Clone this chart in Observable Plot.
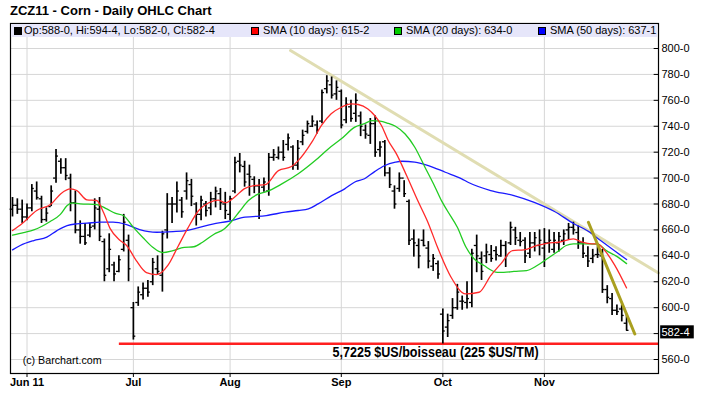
<!DOCTYPE html>
<html>
<head>
<meta charset="utf-8">
<script src="https://cdn.jsdelivr.net/npm/d3@7"></script>
<script src="https://cdn.jsdelivr.net/npm/@observablehq/plot@0.6"></script>
<style>
  body { margin: 0; background: #fff; }
  #wrap { position: relative; width: 702px; height: 397px; overflow: hidden; font-family: "Liberation Sans", Arial, sans-serif; }
  #title { position: absolute; left: 10px; top: 3px; font-weight: bold; font-size: 13px; color: #000; white-space: nowrap; }
  #band { position: absolute; left: 11px; top: 24px; width: 646px; height: 13px; background: #e6e6fa; }
  .item { position: absolute; top: 24px; font-size: 11px; line-height: 13px; white-space: nowrap; color: #000; }
  .sq { position: absolute; top: 27px; width: 6px; height: 6px; border: 1px solid #000; }
  #chart { position: absolute; left: 0; top: 0; }
</style>
</head>
<body>
<div id="wrap">
  <div id="chart"></div>
  <div id="band"></div>
  <div class="sq" style="left:14px;background:#000"></div>
  <div class="item" id="lg0" style="left:24px"></div>
  <div class="sq" style="left:251px;background:#ff0000"></div>
  <div class="item" id="lg1" style="left:263px"></div>
  <div class="sq" style="left:394px;background:#00cc00"></div>
  <div class="item" id="lg2" style="left:406px"></div>
  <div class="sq" style="left:538px;background:#0000ff"></div>
  <div class="item" id="lg3" style="left:550px"></div>
  <div id="title"></div>
</div>
<script>
// ---------- data ----------
const titleText = "ZCZ11 - Corn - Daily OHLC Chart";
const legendTexts = ["Op:588-0, Hi:594-4, Lo:582-0, Cl:582-4", "SMA (10 days): 615-2", "SMA (20 days): 634-0", "SMA (50 days): 637-1"];

// trading-day index of month starts and their labels
const monthK = [3, 25, 45, 68, 89, 110];
const monthLabels = ["Jun 11", "Jul", "Aug", "Sep", "Oct", "Nov"];
const priceTicks = [560, 580, 600, 620, 640, 660, 680, 700, 720, 740, 760, 780, 800];

const highs = [685,684,683,680,695,697,686,677,694,722,715,715,703,690,667,665,665,684,685,653,657,635,640,672,656,604,616,619,621,638,640,659,688,685,697,685,704,699,681,686,682,689,693,692,689,686,716,719,713,710,701,699,700,719,722,724,729,734,725,729,737,744,748,744,768,779,778,775,768,762,760,765,751,741,746,748,728,729,708,694,704,698,683,660,653,660,651,641,636,599,595,607,618,609,620,645,656,643,649,648,647,652,651,666,662,658,654,658,658,660,661,660,658,658,660,665,666,663,654,647,645,647,645,617,611,602,602,594.5];
const lows  = [670,672,665,667,674,683,665,666,678,696,703,698,674,657,649,648,654,660,651,620,627,620,627,643,620,575,601,606,608,617,625,612,653,665,673,669,683,678,663,667,670,671,677,675,668,667,688,704,693,686,688,668,689,686,713,714,713,721,706,706,725,734,739,734,742,765,761,760,738,742,743,743,732,730,726,716,716,701,692,676,689,685,648,639,630,647,630,628,622,572,577,591,598,598,599,600,627,621,634,635,636,639,631,648,648,647,634,638,643,640,631,642,642,643,648,652,656,645,638,631,634,638,611,603,594,594,589,582];
const opens = [676,679,676,670,677,690,684,668,678,700,713,708,700,681,660,655,656,663,676,651,630,633,628,645,652,600,604,610,615,620,630,625,660,680,680,683,690,695,680,672,680,677,684,688,680,672,690,713,709,703,699,694,693,690,716,716,720,726,724,710,728,736,740,741,744,769,772,765,767,745,755,750,748,737,733,742,722,728,704,690,692,700,682,653,648,652,646,632,634,595,585,594,600,605,604,604,648,638,640,641,644,640,648,650,660,652,652,642,650,648,646,650,645,650,652,660,662,658,650,640,638,641,640,614,607,598,599,588];
const closes = [679,676,670,677,692,685,668,673,690,717,708,702,681,660,655,650,662,677,655,625,645,626,637,666,630,578,612,615,612,635,628,657,680,680,690,674,698,686,672,683,675,684,690,681,675,684,712,710,697,701,694,675,697,716,718,720,716,731,710,723,733,742,744,737,766,775,764,770,741,757,746,760,740,734,742,720,724,704,695,680,700,688,652,650,640,648,636,638,626,582,590,600,612,605,607,642,640,628,643,638,641,648,640,662,654,651,640,650,654,652,650,652,652,655,657,662,660,650,642,636,640,641,614,608,598,597,594,582.5];

// moving averages: [trading-day index, price]
const sma10 = [[0,659.5],[2,665],[5,675],[8,680],[10,688],[12,691.7],[13.3,690.4],[15.4,683.2],[17.4,682.7],[18.8,673.6],[20.2,661],[22.2,652],[23.6,648],[25.6,636.3],[27.7,627],[29.8,625.5],[32.2,633],[34.2,647],[36.2,661],[38.5,675],[40.6,681],[42.5,683],[44,681],[45.9,685.2],[47.9,691.7],[50,694.2],[52.3,695],[55,705.8],[57.7,708.9],[59.1,713.5],[61.9,727.7],[63.9,740.6],[65.9,749.6],[68,754.7],[70.1,757.3],[71.5,756.8],[73.5,753.4],[74.9,748.3],[76.3,740.6],[77.7,729],[79.4,718.7],[81.5,702],[83.8,682.7],[85.9,666],[87.9,646.6],[90.7,623.5],[93.7,610.6],[96.5,611.9],[98.9,624.8],[101,633.8],[103.4,644.1],[105.8,644.6],[108.5,648],[110.5,649.7],[113,650.5],[116,653.1],[117.8,650.5],[119.8,649.2],[121,649.2],[122.5,644],[124.6,632.5],[127,615.25]];
const sma20 = [[0,656],[2.3,658],[4.4,660],[7.8,666.5],[9.9,672],[11.3,678.8],[12.3,680.9],[14,680.1],[17.4,679.6],[19.5,676.2],[21.2,672.9],[22.9,671.1],[25,662],[27,654],[29,646.6],[31,642.5],[33.2,644],[35.5,646.6],[37.5,647],[39.3,650.5],[41.6,656.5],[43.7,660.5],[45.3,666.5],[46.9,674],[48.8,682.7],[50.9,687.8],[52.5,689.5],[55.7,695.5],[59.1,703.3],[62.6,713.5],[65.3,722.5],[68,730.3],[70.8,739.3],[72.8,742],[74.3,744.4],[76,744],[77.5,742.5],[79.2,740],[81.2,734],[83.2,723.8],[85.3,708.4],[87.4,693],[88.8,682],[89.9,675],[92,662],[93.8,646.6],[95.5,637.6],[97.5,632.5],[100.3,627.3],[101.6,627.3],[103.7,628],[106.3,628.6],[108.5,632.5],[110.5,637.6],[113,644],[114.5,648],[116,649.2],[118,649.2],[121,649],[122.8,644],[124.8,640],[127,634]];
const sma50 = [[0,644.6],[1.6,648],[4.4,651.8],[7.1,654.4],[9.2,659.5],[11.3,663.4],[13.3,664.7],[15.4,665.2],[18.1,666],[20.8,666],[23.6,664.1],[26.3,660.3],[29.8,658.2],[33.2,658.7],[35.9,659.5],[38.3,661.5],[41.4,664.5],[44.5,666.5],[48.1,669.8],[52.5,671.1],[56.4,673.7],[59.1,675],[61.2,676.2],[63.2,680.1],[66,686.5],[68.7,691.7],[70.8,697],[72.8,699.5],[74.9,705],[76.9,709.5],[79.2,712.3],[80.5,713],[83.2,712.3],[86,709.7],[89.5,704.5],[92.9,699.4],[94.2,696.8],[98.9,690.4],[103.7,686.5],[107.9,681.3],[112,674.4],[116.2,664.6],[118.9,659.4],[121.7,651.6],[124.5,643.9],[127,637.1]];

// hand-drawn trend lines and support level
const trendLong  = [[57.5,798.5],[133.6,626.7]];
const trendShort = [[119.1,665.9],[128.7,579.7]];
const supportPrice = 572.25;
const supportStartK = 22.1;
const supportLabel = "5,7225 $US/boisseau (225 $US/TM)";
const supportLabelAt = [87.5, 565.2];
const copyright = "(c) Barchart.com";
const copyrightAt = [2.1, 559.3];
const lastLabel = "582-4";

// ---------- build ----------
const X_DOMAIN = [-0.414, 133.6];
const Y_DOMAIN = [549.2, 819.3];
const bars = highs.map((h, i) => ({k: i, high: h, low: lows[i], open: opens[i], close: closes[i]}));
const toPts = arr => arr.map(([k, v]) => ({k, v}));
const labelByK = new Map(monthK.map((k, i) => [k, monthLabels[i]]));
const lastBar = bars[bars.length - 1];

document.getElementById("title").textContent = titleText;
legendTexts.forEach((t, i) => document.getElementById("lg" + i).textContent = t);

const chart = Plot.plot({
  width: 702,
  height: 397,
  marginTop: 23,
  marginBottom: 24,
  marginLeft: 10,
  marginRight: 44,
  x: {domain: X_DOMAIN, axis: null, label: null},
  y: {domain: Y_DOMAIN, axis: null, label: null},
  style: {fontFamily: "'Liberation Sans', Arial, sans-serif", fontSize: "11px", background: "transparent", color: "#000"},
  marks: [
    Plot.ruleY(priceTicks, {stroke: "#d6d6d6", strokeWidth: 1}),
    Plot.ruleX(monthK, {stroke: "#d6d6d6", strokeWidth: 1}),
    Plot.line(toPts(trendLong), {x: "k", y: "v", stroke: "#e0ddb2", strokeWidth: 3}),
    Plot.ruleY([supportPrice], {x1: () => supportStartK, x2: () => X_DOMAIN[1], stroke: "#ff2020", strokeWidth: 2.5}),
    Plot.ruleX(bars, {x: "k", y1: "low", y2: "high", stroke: "#000", strokeWidth: 1.7}),
    Plot.ruleY(bars, {y: "open", x1: d => d.k - 0.5, x2: "k", stroke: "#000", strokeWidth: 1.3}),
    Plot.ruleY(bars, {y: "close", x1: "k", x2: d => d.k + 0.5, stroke: "#000", strokeWidth: 1.3}),
    Plot.line(toPts(sma50), {x: "k", y: "v", stroke: "#1a1aff", strokeWidth: 1.3, curve: "monotone-x"}),
    Plot.line(toPts(sma20), {x: "k", y: "v", stroke: "#22cc22", strokeWidth: 1.3, curve: "monotone-x"}),
    Plot.line(toPts(sma10), {x: "k", y: "v", stroke: "#ff2a2a", strokeWidth: 1.3, curve: "monotone-x"}),
    Plot.line(toPts(trendShort), {x: "k", y: "v", stroke: "#aaa020", strokeWidth: 3}),
    Plot.frame({stroke: "#000", strokeWidth: 1.2}),
    Plot.ruleY(priceTicks, {x1: () => X_DOMAIN[1] - 0.9, x2: () => X_DOMAIN[1], stroke: "#000", strokeWidth: 1}),
    Plot.axisX({ticks: monthK, tickFormat: d => labelByK.get(d), tickSize: 4, tickPadding: 1, fontWeight: "bold", fontSize: 11, label: null}),
    Plot.axisY({anchor: "right", ticks: priceTicks.filter(p => Math.abs(p - lastBar.close) > 5), tickSize: 0, tickPadding: 3, tickFormat: d => d + "-0", fontSize: 11, label: null}),
    Plot.rect([lastBar], {x1: () => X_DOMAIN[1] + 0.45, x2: () => X_DOMAIN[1] + 7.4, y1: d => d.close - 6.6, y2: d => d.close + 3.5, fill: "#000"}),
    Plot.text([lastBar], {x: () => X_DOMAIN[1] + 0.6, y: "close", dy: 2, text: () => lastLabel, fill: "#fff", textAnchor: "start", fontSize: 11}),
    Plot.text([supportLabel], {x: () => supportLabelAt[0], y: () => supportLabelAt[1], text: d => d, fontWeight: "bold", fontSize: 14, fill: "#000", className: "support-label"}),
    Plot.text([copyright], {x: () => copyrightAt[0], y: () => copyrightAt[1], text: d => d, textAnchor: "start", fontSize: 11, fill: "#000", className: "copy-label"})
  ]
});
// condense the two narrow-font labels to the reference widths
chart.querySelectorAll(".support-label text").forEach(t => { t.setAttribute("textLength", 206); t.setAttribute("lengthAdjust", "spacingAndGlyphs"); });
chart.querySelectorAll(".copy-label text").forEach(t => { t.setAttribute("textLength", 79); t.setAttribute("lengthAdjust", "spacingAndGlyphs"); });
document.getElementById("chart").appendChild(chart);
</script>
</body>
</html>
